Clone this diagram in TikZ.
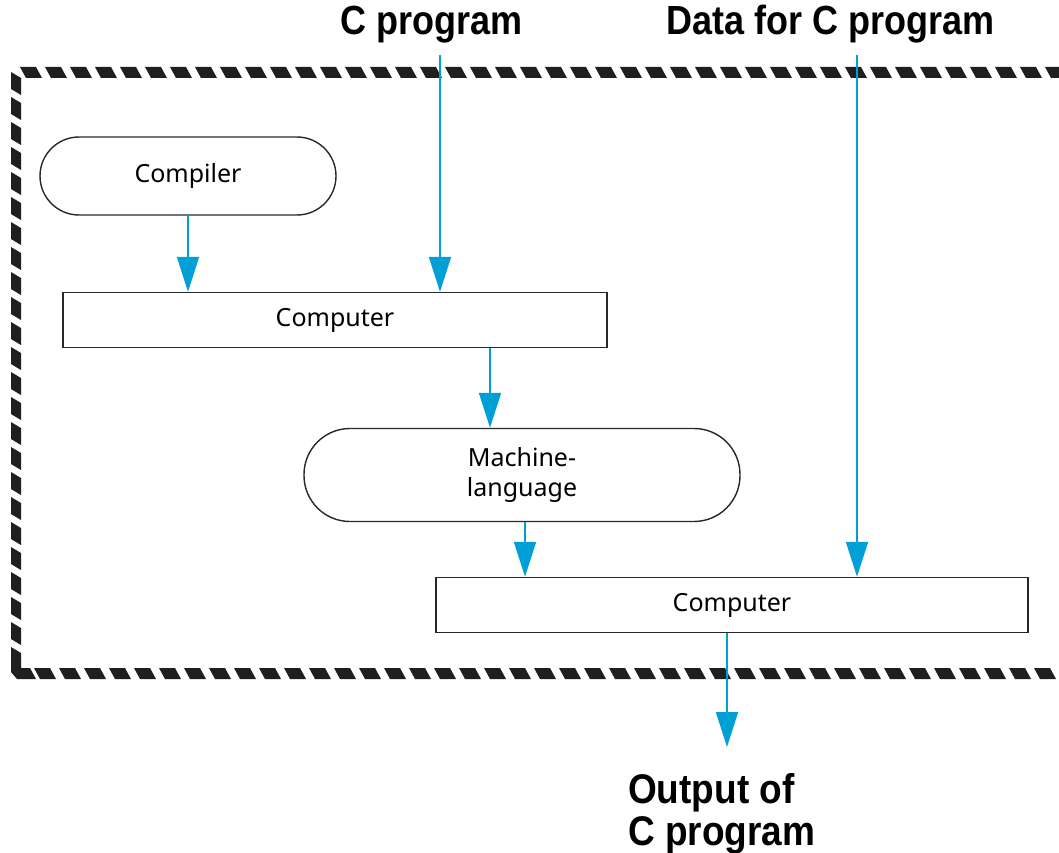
\documentclass[tikz,border=0pt]{standalone}
\usepackage{fontspec}
\setmainfont{Noto Sans}
\newfontfamily\titlefont{Liberation Sans}
\usetikzlibrary{arrows.meta,calc}
\definecolor{flowblue}{RGB}{0,160,214}
\definecolor{edge}{RGB}{40,40,40}
\tikzset{
  terminal/.style={draw=edge,line width=1.4pt,rectangle,inner sep=0pt,align=center,
    font=\fontsize{25}{30}\selectfont},
  procbox/.style={draw=edge,line width=1.4pt,rectangle,inner sep=0pt,
    font=\fontsize{25}{30}\selectfont},
  flow/.style={draw=flowblue,line width=1.8pt,
    -{Triangle[width=22pt,length=35pt]},flowblue},
  heading/.style={anchor=base,inner sep=0pt,font=\titlefont\bfseries\fontsize{36}{42}\selectfont},
  stripe/.style={fill=black!88,draw=none}
}
\begin{document}
\begin{tikzpicture}[x=1pt,y=-1pt]
\useasboundingbox (0,0) rectangle (1059,853);

% hatched frame (open on the right)
\begin{scope}
\clip (0,0) rectangle (1059,853);
\foreach \x in {20,45,...,1070} {
  \fill[stripe] (\x,67) -- (\x+16,67) -- (\x+22,78) -- (\x+6,78) -- cycle;
  \fill[stripe] (\x+14,668) -- (\x+30,668) -- (\x+36,679) -- (\x+20,679) -- cycle;
}
\foreach \y in {72,97,...,650} {
  \fill[stripe] (11,\y) -- (21,\y+6) -- (21,\y+23) -- (11,\y+17) -- cycle;
}
\fill[stripe] (11,672) -- (11,660) -- (21,666) -- (21,668) -- (30,668) -- (36,679) -- (17,679) -- cycle;
\end{scope}

% nodes
\node[terminal,minimum width=296pt,minimum height=78pt,rounded corners=39pt] (compiler) at (188,176) {Compiler};
\node[procbox,minimum width=544pt,minimum height=55pt] (comp1) at (335,320) {Computer};
\node[terminal,minimum width=436pt,minimum height=93pt,rounded corners=46pt] (mlang) at (522,475) {Machine-\\language};
\node[procbox,minimum width=592pt,minimum height=55pt] (comp2) at (732,605) {Computer};

% headings
\node[heading] (cprog) at (432,35) {\scalebox{1}[1.13]{C program}};
\node[heading] (data) at (831,35) {\scalebox{1}[1.13]{Data for C program}};
\node[anchor=base west,inner sep=0pt,align=left,font=\titlefont\bfseries\fontsize{37}{42}\selectfont] (output) at (628,845)
  {\scalebox{1}[1.12]{Output of}\\\scalebox{1}[1.12]{C program}};

% connector start/end points
\coordinate (cpin) at (440,55);
\coordinate (datain) at (857,55);
\coordinate (outend) at (727,747);

% connectors
\draw[flow] (compiler.south) -- (compiler.south |- comp1.north);
\draw[flow] (cpin) -- (cpin |- comp1.north);
\draw[flow] ([xshift=155pt]comp1.south) -- ([xshift=155pt]comp1.south |- mlang.north);
\draw[flow] ([xshift=3pt]mlang.south) -- ([xshift=3pt]mlang.south |- comp2.north);
\draw[flow] (datain) -- (datain |- comp2.north);
\draw[flow] ([xshift=-5pt]comp2.south) -- (outend);
\end{tikzpicture}
\end{document}
